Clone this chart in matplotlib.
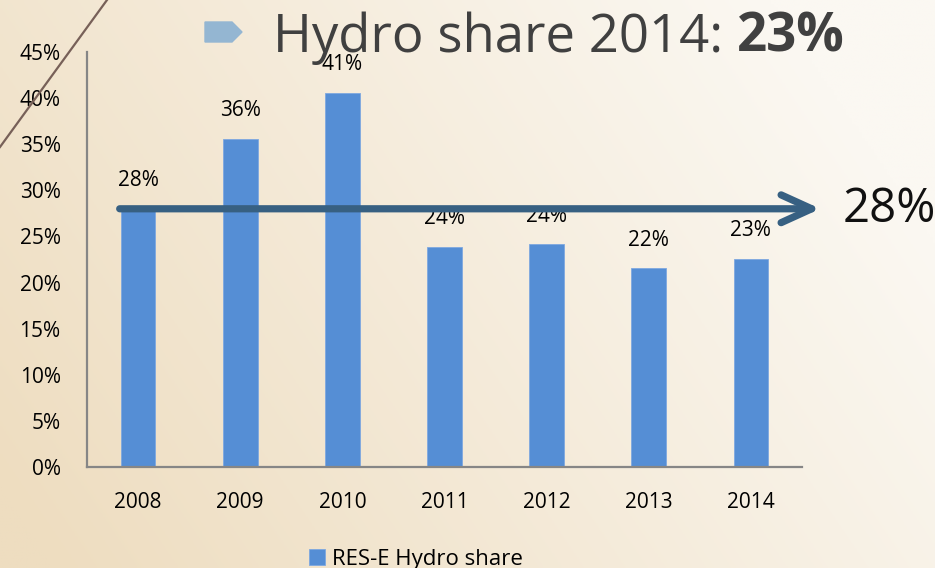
import numpy as np
import matplotlib
matplotlib.use("Agg")
import matplotlib.pyplot as plt
from matplotlib.patches import Polygon
from matplotlib.lines import Line2D

# data
years = ["2008", "2009", "2010", "2011", "2012", "2013", "2014"]
hydro_share = [28.0, 35.6, 40.6, 23.9, 24.2, 21.6, 22.6]
average_share = 28
y_ticks = [0, 5, 10, 15, 20, 25, 30, 35, 40, 45]
title_main = "Hydro share 2014: "
title_bold = "23%"
legend_label = "RES-E Hydro share"

W, H = 935, 568
fig = plt.figure(figsize=(W / 100, H / 100), dpi=100)

# background gradient, tan on the left fading to near-white on the right
bg = fig.add_axes([0, 0, 1, 1], zorder=-10)
gx, gy = np.meshgrid(np.linspace(0, 1, 300), np.linspace(0, 1, 200))
t = np.clip(0.85 * gx + 0.35 * (1 - gy) - 0.05, 0, 1)
c0 = np.array([238, 221, 192]) / 255
c1 = np.array([251, 248, 242]) / 255
img = c0[None, None, :] * (1 - t[..., None]) + c1[None, None, :] * t[..., None]
bg.imshow(img, aspect="auto", extent=[0, 1, 0, 1], origin="upper")
bg.set_axis_off()

# decorative diagonal line top-left
fig.add_artist(Line2D([0, 107 / W], [1 - 147 / H, 1], color="#776058", lw=1.6))

# title marker and text
px = lambda x, y: (x / W, 1 - y / H)
fig.add_artist(Polygon([px(205, 22), px(232, 22), px(242, 32), px(232, 42), px(205, 42)],
                       closed=True, color="#94b6d2", transform=fig.transFigure))
t1 = fig.text(273 / W, 1 - 52 / H, title_main, fontsize=38, family="Open Sans",
              color="#404040", va="baseline", ha="left")
t2 = plt.annotate(title_bold, xy=(1, 0), xycoords=t1, fontsize=38, family="Open Sans",
                  weight="bold", color="#404040", va="bottom", ha="left",
                  annotation_clip=False)

ax = fig.add_axes([87 / W, 1 - 467 / H, 715 / W, 415 / H])
ax.set_facecolor("none")
x = np.arange(len(years))
bars = ax.bar(x, hydro_share, width=0.34, color="#558ed5", edgecolor="#7ea8e0",
              linewidth=0.6, label=legend_label, zorder=2)
ax.set_xlim(-0.5, len(years) - 0.5)
ax.set_ylim(0, 45)
ax.set_yticks(y_ticks)
ax.set_yticklabels([f"{v}%" for v in y_ticks])
ax.set_xticks(x)
ax.set_xticklabels(years)
ax.tick_params(axis="both", length=0, labelsize=15)
ax.tick_params(axis="y", pad=19)
ax.tick_params(axis="x", pad=18)
for lbl in ax.get_xticklabels() + ax.get_yticklabels():
    lbl.set_family("Open Sans")
for s in ["top", "right"]:
    ax.spines[s].set_visible(False)
for s in ["left", "bottom"]:
    ax.spines[s].set_color("#868686")
    ax.spines[s].set_linewidth(1.6)

for xi, v in zip(x, hydro_share):
    ax.annotate(f"{v:.0f}%", xy=(xi, v), xytext=(0, 20), textcoords="offset points",
                ha="center", va="center", fontsize=15, family="Open Sans", zorder=3)

# average arrow
ax.annotate("", xy=(6.68, average_share), xytext=(-0.18, average_share),
            arrowprops=dict(arrowstyle="->,head_length=2.2,head_width=1.0", lw=5.2,
                            color="#376082", shrinkA=0, shrinkB=0,
                            capstyle="round", joinstyle="round"),
            annotation_clip=False, zorder=4)
ax.text(6.9, average_share, f"{average_share}%", fontsize=34, family="Open Sans",
        va="center", ha="left", color="#111111", clip_on=False)

ax.legend(loc="center", bbox_to_anchor=(0.46, -0.222), frameon=False,
          handlelength=0.72, handleheight=0.72, handletextpad=0.3,
          prop={"family": "Open Sans", "size": 16})

fig.savefig("out.png", dpi=100)
